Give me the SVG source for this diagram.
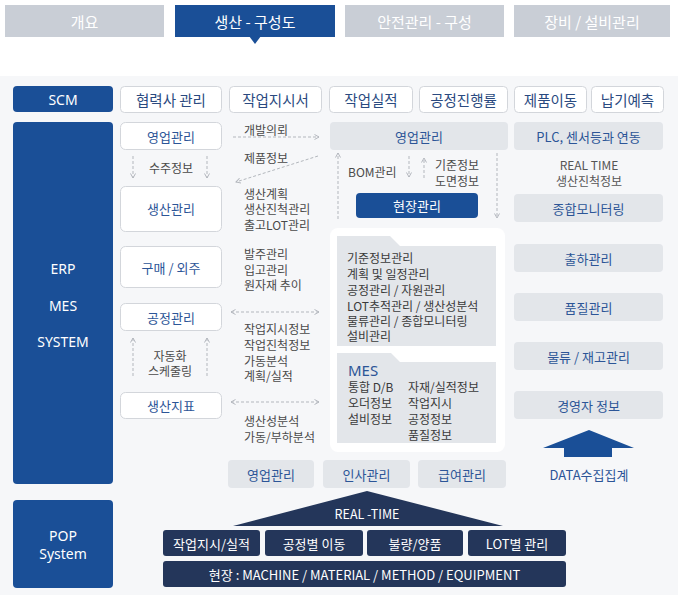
<svg xmlns="http://www.w3.org/2000/svg" width="678" height="595" viewBox="0 0 678 595">
<defs>
<style>
.tab{fill:#c9ced6}
.tabA{fill:#1a4f97}
.tabt{font-family:"Noto Sans CJK KR",sans-serif;font-size:15px;fill:#fff;text-anchor:middle;dominant-baseline:central}
.sys{fill:#1a4f97}
.syst{font-family:"Noto Sans","Noto Sans CJK KR",sans-serif;font-size:14px;fill:#fff;text-anchor:middle;dominant-baseline:central}
.wb{fill:#fff;stroke:#d3d6db;stroke-width:1}
.gb{fill:#e3e6ea}
.nb{fill:#24365a}
.bt{font-family:"Noto Sans CJK KR",sans-serif;font-size:13px;fill:#2c5597;text-anchor:middle;dominant-baseline:central}
.tt{font-family:"Noto Sans CJK KR",sans-serif;font-size:14.5px;fill:#2a4a80;text-anchor:middle;dominant-baseline:central}
.nt{font-family:"Noto Sans CJK KR",sans-serif;font-size:13px;fill:#fff;text-anchor:middle;dominant-baseline:central}
.lt{font-family:"Noto Sans CJK KR",sans-serif;font-size:12px;fill:#4a4a4a;dominant-baseline:central}
.ct{font-family:"Noto Sans CJK KR",sans-serif;font-size:12px;fill:#555;text-anchor:middle;dominant-baseline:central}
.mes{font-family:"Noto Sans","Noto Sans CJK KR",sans-serif;font-size:15px;fill:#2c5597;dominant-baseline:central}
.dash{stroke:#b3b7bd;stroke-width:1;stroke-dasharray:3 2;fill:none}
</style>
<marker id="ah" viewBox="0 0 6 6" refX="5" refY="3" markerWidth="6" markerHeight="6" orient="auto-start-reverse" markerUnits="userSpaceOnUse">
<path d="M0.5,0.5 L5,3 L0.5,5.5" fill="none" stroke="#b3b7bd" stroke-width="1"/>
</marker>
</defs>

<rect x="0" y="0" width="678" height="595" fill="#fff"/>
<rect x="0" y="76" width="678" height="519" fill="#f6f7f9"/>

<g id="tabs">
<rect class="tab" x="5" y="5" width="159" height="32"/>
<text class="tabt" x="84.5" y="21">개요</text>
<rect class="tabA" x="175" y="5" width="160" height="32"/>
<polygon class="tabA" points="249,36 261,36 255,44"/>
<text class="tabt" x="255" y="21">생산 - 구성도</text>
<rect class="tab" x="345" y="5" width="159" height="32"/>
<text class="tabt" x="424.5" y="21">안전관리 - 구성</text>
<rect class="tab" x="514" y="5" width="156" height="32"/>
<text class="tabt" x="592" y="21">장비 / 설비관리</text>
</g>

<g id="systems">
<g id="scm"><rect class="sys" x="13" y="86" width="100" height="26" rx="4"/><text class="syst" x="63" y="99">SCM</text></g>
<g id="erp"><rect class="sys" x="13" y="122" width="100" height="362" rx="4"/>
<text class="syst" x="63" y="268">ERP</text><text class="syst" x="63" y="305">MES</text><text class="syst" x="63" y="341">SYSTEM</text></g>
<g id="pop"><rect class="sys" x="13" y="500" width="100" height="88" rx="4"/>
<text class="syst" x="63" y="535">POP</text><text class="syst" x="63" y="553">System</text></g>
</g>

<g id="scm-row">
<g id="t1"><rect class="wb" x="120.5" y="86.5" width="101" height="26" rx="4"/><text class="tt" x="171" y="99.5">협력사 관리</text></g>
<g id="t2"><rect class="wb" x="229.5" y="86.5" width="92" height="26" rx="4"/><text class="tt" x="275.5" y="99.5">작업지시서</text></g>
<g id="t3"><rect class="wb" x="329.5" y="86.5" width="83" height="26" rx="4"/><text class="tt" x="371" y="99.5">작업실적</text></g>
<g id="t4"><rect class="wb" x="419.5" y="86.5" width="88" height="26" rx="4"/><text class="tt" x="463.5" y="99.5">공정진행률</text></g>
<g id="t5"><rect class="wb" x="514.5" y="86.5" width="72" height="26" rx="4"/><text class="tt" x="550.5" y="99.5">제품이동</text></g>
<g id="t6"><rect class="wb" x="591.5" y="86.5" width="72" height="26" rx="4"/><text class="tt" x="627.5" y="99.5">납기예측</text></g>
</g>

<g id="left-col">
<g id="l1"><rect class="wb" x="120.5" y="122.5" width="101" height="27" rx="5"/><text class="bt" x="171" y="136">영업관리</text></g>
<text class="lt" x="171" y="167" text-anchor="middle">수주정보</text>
<g id="l2"><rect class="wb" x="120.5" y="186.5" width="101" height="45" rx="5"/><text class="bt" x="171" y="208">생산관리</text></g>
<g id="l3"><rect class="wb" x="120.5" y="246.5" width="101" height="41" rx="5"/><text class="bt" x="171" y="267">구매 / 외주</text></g>
<g id="l4"><rect class="wb" x="120.5" y="303.5" width="101" height="27" rx="5"/><text class="bt" x="171" y="317">공정관리</text></g>
<text class="lt" x="170" y="355" text-anchor="middle">자동화</text>
<text class="lt" x="170" y="370" text-anchor="middle">스케줄링</text>
<g id="l5"><rect class="wb" x="120.5" y="392.5" width="101" height="26" rx="5"/><text class="bt" x="171" y="405.5">생산지표</text></g>
</g>

<g id="mid-labels">
<text class="lt" x="244" y="129">개발의뢰</text>
<text class="lt" x="244" y="157">제품정보</text>
<text class="lt" x="244" y="193">생산계획</text>
<text class="lt" x="244" y="208">생산진척관리</text>
<text class="lt" x="244" y="224">출고LOT관리</text>
<text class="lt" x="244" y="253">발주관리</text>
<text class="lt" x="244" y="269">입고관리</text>
<text class="lt" x="244" y="284">원자재 추이</text>
<text class="lt" x="244" y="328">작업지시정보</text>
<text class="lt" x="244" y="344">작업진척정보</text>
<text class="lt" x="244" y="360">가동분석</text>
<text class="lt" x="244" y="375">계획/실적</text>
<text class="lt" x="244" y="420">생산성분석</text>
<text class="lt" x="244" y="436">가동/부하분석</text>
</g>

<g id="center-col">
<g id="c1"><rect class="gb" x="330" y="122" width="178" height="28" rx="4"/><text class="bt" x="419" y="136">영업관리</text></g>
<text class="lt" x="348" y="171">BOM관리</text>
<text class="lt" x="435" y="164">기준정보</text>
<text class="lt" x="435" y="180">도면정보</text>
<g id="c2"><rect class="sys" x="356" y="193" width="122" height="25" rx="4"/><text class="nt" x="417" y="205.5">현장관리</text></g>
<rect x="330" y="228" width="175" height="224" rx="8" fill="#fff"/>
<g id="c3"><path class="gb" d="M337,346 L337,236 L390,236 L400,246 L496,246 L496,346 Z"/>
<text class="lt" x="347" y="257" style="fill:#3a3a3a">기준정보관리</text>
<text class="lt" x="347" y="273" style="fill:#3a3a3a">계획 및 일정관리</text>
<text class="lt" x="347" y="289" style="fill:#3a3a3a">공정관리 / 자원관리</text>
<text class="lt" x="347" y="305" style="fill:#3a3a3a">LOT추적관리 / 생산성분석</text>
<text class="lt" x="347" y="320" style="fill:#3a3a3a">물류관리 / 종합모니터링</text>
<text class="lt" x="347" y="335" style="fill:#3a3a3a">설비관리</text></g>
<g id="c4"><path class="gb" d="M337,443 L337,353 L391,353 L400,362 L496,362 L496,443 Z"/>
<text class="mes" x="348" y="370">MES</text>
<text class="lt" x="348" y="386" style="fill:#3a3a3a">통합 D/B</text>
<text class="lt" x="348" y="402" style="fill:#3a3a3a">오더정보</text>
<text class="lt" x="348" y="418" style="fill:#3a3a3a">설비정보</text>
<text class="lt" x="408" y="386" style="fill:#3a3a3a">자재/실적정보</text>
<text class="lt" x="408" y="402" style="fill:#3a3a3a">작업지시</text>
<text class="lt" x="408" y="418" style="fill:#3a3a3a">공정정보</text>
<text class="lt" x="408" y="434" style="fill:#3a3a3a">품질정보</text></g>
</g>

<g id="right-col">
<g id="r1"><rect class="gb" x="514" y="122" width="149" height="28" rx="4"/><text class="bt" x="588.5" y="136">PLC, 센서등과 연동</text></g>
<text class="ct" x="589" y="164">REAL TIME</text>
<text class="ct" x="589" y="180">생산진척정보</text>
<g id="r2"><rect class="gb" x="514" y="194" width="149" height="28" rx="4"/><text class="bt" x="588.5" y="208">종합모니터링</text></g>
<g id="r3"><rect class="gb" x="514" y="244" width="149" height="28" rx="4"/><text class="bt" x="588.5" y="258">출하관리</text></g>
<g id="r4"><rect class="gb" x="514" y="293" width="149" height="28" rx="4"/><text class="bt" x="588.5" y="307">품질관리</text></g>
<g id="r5"><rect class="gb" x="514" y="342" width="149" height="28" rx="4"/><text class="bt" x="588.5" y="356">물류 / 재고관리</text></g>
<g id="r6"><rect class="gb" x="514" y="391" width="149" height="28" rx="4"/><text class="bt" x="588.5" y="405">경영자 정보</text></g>
<g id="data-arrow"><polygon class="sys" points="589,430 543,448 564,448 564,457 612,457 612,448 634,448"/>
<text class="bt" x="589" y="474">DATA수집집계</text></g>
</g>

<g id="bottom-row">
<g id="b1"><rect class="gb" x="228" y="460" width="86" height="28" rx="4"/><text class="bt" x="271" y="474">영업관리</text></g>
<g id="b2"><rect class="gb" x="323" y="460" width="87" height="28" rx="4"/><text class="bt" x="366.5" y="474">인사관리</text></g>
<g id="b3"><rect class="gb" x="418" y="460" width="88" height="28" rx="4"/><text class="bt" x="462" y="474">급여관리</text></g>
</g>

<g id="pop-block">
<polygon class="nb" points="367,491 233,526 503,526"/>
<text class="nt" x="367" y="513" style="font-size:12.5px">REAL -TIME</text>
<g id="p1"><rect class="nb" x="163" y="530" width="97" height="26" rx="3"/><text class="nt" x="211.5" y="543">작업지시/실적</text></g>
<g id="p2"><rect class="nb" x="265" y="530" width="98" height="26" rx="3"/><text class="nt" x="314" y="543">공정별 이동</text></g>
<g id="p3"><rect class="nb" x="367" y="530" width="96" height="26" rx="3"/><text class="nt" x="415" y="543">불량/양품</text></g>
<g id="p4"><rect class="nb" x="468" y="530" width="98" height="26" rx="3"/><text class="nt" x="517" y="543">LOT별 관리</text></g>
<g id="p5"><rect class="nb" x="163" y="561" width="403" height="26" rx="3"/><text class="nt" x="364.5" y="574">현장 : MACHINE / MATERIAL / METHOD / EQUIPMENT</text></g>
</g>

<g id="connectors">
<line class="dash" x1="233" y1="137" x2="319" y2="137" marker-end="url(#ah)"/>
<line class="dash" x1="318" y1="156" x2="236" y2="182" marker-end="url(#ah)"/>
<line class="dash" x1="133" y1="156" x2="133" y2="178" marker-end="url(#ah)"/>
<line class="dash" x1="207" y1="156" x2="207" y2="178" marker-end="url(#ah)"/>
<line class="dash" x1="231" y1="312" x2="319" y2="312" marker-start="url(#ah)" marker-end="url(#ah)"/>
<line class="dash" x1="133" y1="376" x2="133" y2="338" marker-end="url(#ah)"/>
<line class="dash" x1="207" y1="376" x2="207" y2="338" marker-end="url(#ah)"/>
<line class="dash" x1="231" y1="402" x2="319" y2="402" marker-start="url(#ah)" marker-end="url(#ah)"/>
<line class="dash" x1="338" y1="219" x2="338" y2="153" marker-end="url(#ah)"/>
<line class="dash" x1="409" y1="156" x2="409" y2="177" marker-end="url(#ah)"/>
<line class="dash" x1="424" y1="178" x2="424" y2="158" marker-end="url(#ah)"/>
<line class="dash" x1="497" y1="153" x2="497" y2="218" marker-end="url(#ah)"/>
</g>
</svg>
